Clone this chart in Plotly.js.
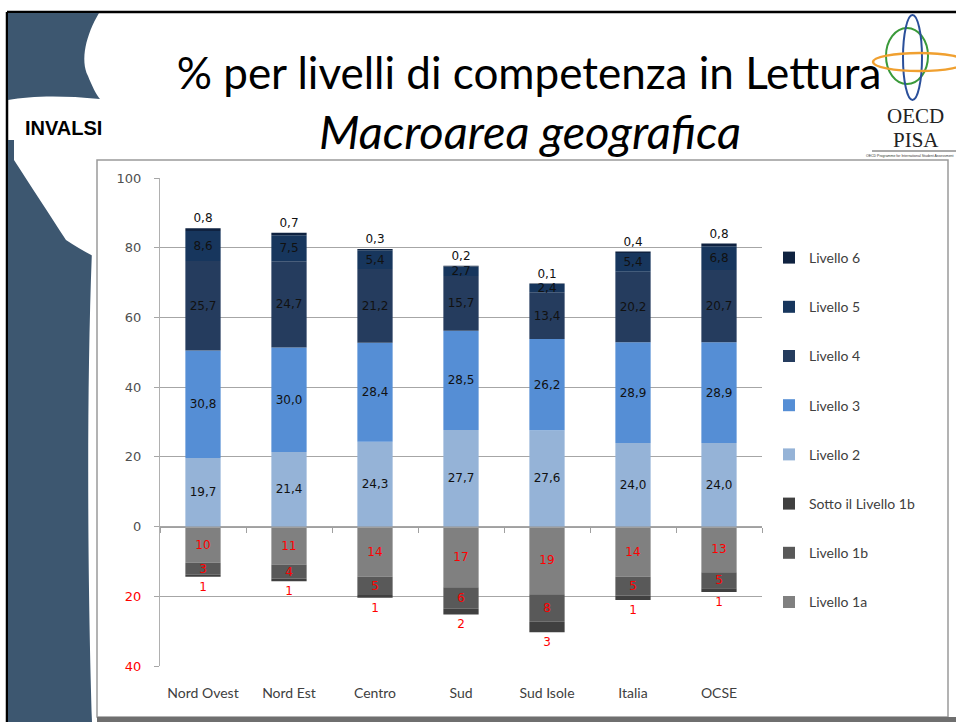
<!DOCTYPE html>
<html>
<head>
<meta charset="utf-8">
<script src="https://cdn.plot.ly/plotly-3.0.1.min.js"></script>
<style>html,body{margin:0;padding:0;background:#fff;}#chart{width:956px;height:722px;}</style>
</head>
<body>
<div id="chart"></div>
<script>
// ---- Data ----
const categories = ['Nord Ovest', 'Nord Est', 'Centro', 'Sud', 'Sud Isole', 'Italia', 'OCSE'];
const livello2 = [19.7, 21.4, 24.3, 27.7, 27.6, 24.0, 24.0];
const livello3 = [30.8, 30.0, 28.4, 28.5, 26.2, 28.9, 28.9];
const livello4 = [25.7, 24.7, 21.2, 15.7, 13.4, 20.2, 20.7];
const livello5 = [8.6, 7.5, 5.4, 2.7, 2.4, 5.4, 6.8];
const livello6 = [0.8, 0.7, 0.3, 0.2, 0.1, 0.4, 0.8];
const livello1a = [10.4, 10.9, 14.4, 17.4, 19.4, 14.4, 13.1];
const livello1b = [3.4, 4.0, 5.2, 6.2, 7.9, 5.4, 4.6];
const sotto1b = [0.6, 0.8, 0.8, 1.6, 3.0, 1.3, 1.1];
const yTickVals = [-40, -20, 0, 20, 40, 60, 80, 100];
const yTickLabels = ['40', '20', '0', '20', '40', '60', '80', '100'];

// ---- helpers ----
const W = 956, H = 722, M = {l: 160, r: 194, t: 178, b: 56};
const px = x => (x - M.l) / (W - M.l - M.r);
const py = y => (H - M.b - y) / (H - M.t - M.b);
const pt = (x, y) => px(x).toFixed(5) + ',' + py(y).toFixed(5);
const dec = v => v.toFixed(1).replace('.', ',');
const neg = arr => arr.map(v => -v);
const intLabel = arr => arr.map(v => String(Math.round(v)));

const labelFont = {family: 'DejaVu Sans', size: 12, color: '#111111'};
const redFont = {family: 'DejaVu Sans', size: 12, color: '#ff0000'};

function barTrace(name, y, text, color, pos, font, rank) {
  return {
    type: 'bar', name: name, x: categories, y: y, text: text,
    textposition: pos, textangle: 0, constraintext: 'none',
    insidetextanchor: 'middle', textfont: font, cliponaxis: false,
    marker: {color: color, line: {width: 0}},
    legendgroup: 'g' + rank, legendrank: rank, hoverinfo: 'name+y'
  };
}

const traces = [
  barTrace('Livello 1a', neg(livello1a), intLabel(livello1a), '#808080', 'inside', redFont, 8),
  barTrace('Livello 1b', neg(livello1b), intLabel(livello1b), '#595959', 'inside', redFont, 7),
  barTrace('Sotto il Livello 1b', neg(sotto1b), intLabel(sotto1b), '#404040', 'outside', redFont, 6),
  barTrace('Livello 2', livello2, livello2.map(dec), '#95b3d7', 'inside', labelFont, 5),
  barTrace('Livello 3', livello3, livello3.map(dec), '#558ed5', 'inside', labelFont, 4),
  barTrace('Livello 4', livello4, livello4.map(dec), '#253c5e', 'inside', labelFont, 3),
  barTrace('Livello 5', livello5, livello5.map(dec), '#17365d', 'inside', labelFont, 2),
  barTrace('Livello 6', livello6, livello6.map(dec), '#0f2240', 'outside', labelFont, 1),
  // invisible helper trace that carries the category axis drawn at y = 0
  {type: 'scatter', mode: 'markers', x: categories, y: categories.map(() => 0),
   xaxis: 'x2', yaxis: 'y', marker: {opacity: 0}, showlegend: false, hoverinfo: 'skip'}
];

const slate = '#3d5770';
const shapes = [
  // slide frame
  {type: 'line', xref: 'paper', yref: 'paper', x0: px(7), y0: py(12), x1: px(956), y1: py(12), line: {color: '#000', width: 2.5}, layer: 'below'},
  {type: 'line', xref: 'paper', yref: 'paper', x0: px(7), y0: py(12), x1: px(7), y1: py(722), line: {color: '#000', width: 2.5}, layer: 'below'},
  // left decoration
  {type: 'path', xref: 'paper', yref: 'paper', layer: 'below', fillcolor: slate, line: {width: 0},
   path: `M ${pt(8,13)} L ${pt(99,13)} C ${pt(86,35)} ${pt(80,60)} ${pt(88,76)} C ${pt(92,86)} ${pt(96,94)} ${pt(100,99)} C ${pt(60,95)} ${pt(30,96)} ${pt(8,100)} Z`},
  {type: 'path', xref: 'paper', yref: 'paper', layer: 'below', fillcolor: slate, line: {width: 0},
   path: `M ${pt(8,140)} L ${pt(8,722)} L ${pt(92,722)} C ${pt(88,600)} ${pt(86,400)} ${pt(92,250)} L ${pt(95,140)} Z`},
  {type: 'path', xref: 'paper', yref: 'paper', layer: 'below', fillcolor: '#ffffff', line: {width: 0},
   path: `M ${pt(14,138)} L ${pt(97,138)} L ${pt(97,258)} C ${pt(85,252)} ${pt(75,246)} ${pt(66,240)} C ${pt(50,215)} ${pt(30,185)} ${pt(14,160)} Z`},
  // chart box
  {type: 'rect', xref: 'paper', yref: 'paper', layer: 'below', x0: px(97), y0: py(160), x1: px(948), y1: py(717),
   fillcolor: '#ffffff', line: {color: '#9a9a9a', width: 1.5}},
  {type: 'rect', xref: 'paper', yref: 'paper', layer: 'below', x0: px(97), y0: py(717), x1: px(956), y1: py(722),
   fillcolor: '#6f6f6f', line: {width: 0}},
  // OECD PISA logo rings
  {type: 'circle', xref: 'paper', yref: 'paper', x0: px(886), y0: py(28), x1: px(928), y1: py(84), line: {color: '#3a9a3a', width: 2}},
  {type: 'circle', xref: 'paper', yref: 'paper', x0: px(903), y0: py(15), x1: px(922), y1: py(100), line: {color: '#2a4f9a', width: 2}},
  {type: 'circle', xref: 'paper', yref: 'paper', x0: px(873), y0: py(53), x1: px(966), y1: py(71), line: {color: '#f0a030', width: 2.5}},
  {type: 'line', xref: 'paper', yref: 'paper', x0: px(872), y0: py(151), x1: px(956), y1: py(151), line: {color: '#555', width: 1}}
];

const annotations = [
  {xref: 'paper', yref: 'paper', x: px(530), y: py(131), text: 'Macroarea geografica', showarrow: false,
   xanchor: 'center', yanchor: 'middle', font: {family: 'Lato', size: 47, color: '#000', style: 'italic'}},
  {xref: 'paper', yref: 'paper', x: px(63), y: py(128), text: '<b>INVALSI</b>', showarrow: false,
   xanchor: 'center', yanchor: 'middle', font: {family: 'Liberation Sans', size: 20, color: '#000'}},
  {xref: 'paper', yref: 'paper', x: px(915), y: py(116), text: 'OECD', showarrow: false,
   xanchor: 'center', yanchor: 'middle', font: {family: 'Liberation Serif', size: 21, color: '#222'}},
  {xref: 'paper', yref: 'paper', x: px(916), y: py(140), text: 'PISA', showarrow: false,
   xanchor: 'center', yanchor: 'middle', font: {family: 'Liberation Serif', size: 21, color: '#222'}},
  {xref: 'paper', yref: 'paper', x: px(910), y: py(156), text: 'OECD Programme for International Student Assessment', showarrow: false,
   xanchor: 'center', yanchor: 'middle', font: {family: 'Liberation Sans', size: 3.5, color: '#333'}}
];

const layout = {
  width: W, height: H,
  margin: {l: M.l, r: M.r, t: M.t, b: M.b, pad: 0},
  paper_bgcolor: '#ffffff', plot_bgcolor: 'rgba(0,0,0,0)',
  separators: ',.',
  title: {text: '% per livelli di competenza in Lettura', x: 529 / W, xanchor: 'center', xref: 'container',
          y: 1 - 74 / H, yanchor: 'middle', yref: 'container',
          font: {family: 'Lato', size: 44, color: '#000'}},
  barmode: 'relative', bargap: 0.59,
  showlegend: true,
  legend: {x: px(769), y: py(242), xanchor: 'left', yanchor: 'top', traceorder: 'grouped',
           tracegroupgap: 28, bgcolor: 'rgba(0,0,0,0)', font: {family: 'Lato', size: 14, color: '#404040'}},
  xaxis: {type: 'category', categoryarray: categories, range: [-0.5, 6.5], showgrid: false, showline: false,
          zeroline: false, ticks: '', ticklabelstandoff: 17,
          tickfont: {family: 'Lato', size: 14, color: '#404040'}},
  xaxis2: {type: 'category', categoryarray: categories, range: [-0.5, 6.5], overlaying: 'x', anchor: 'free',
           position: 40 / 140, showline: true, linecolor: '#a0a0a0', linewidth: 1, ticks: 'outside',
           tickson: 'boundaries', ticklen: 5, tickcolor: '#a0a0a0', showticklabels: false, showgrid: false, zeroline: false},
  yaxis: {range: [-40, 100], tickvals: yTickVals,
          ticktext: yTickLabels.map((t, i) => yTickVals[i] < 0 ? '<span style="color:#ff0000">' + t + '</span>' : t),
          showgrid: true, gridcolor: '#a6a6a6', gridwidth: 1, zeroline: false,
          showline: true, linecolor: '#b0b0b0', ticks: 'outside', ticklen: 5, tickcolor: '#a6a6a6',
          ticklabelstandoff: 10, tickfont: {family: 'DejaVu Sans', size: 13, color: '#505050'}},
  shapes: shapes,
  annotations: annotations
};

Plotly.newPlot('chart', traces, layout, {displayModeBar: false, staticPlot: true});
</script>
</body>
</html>
